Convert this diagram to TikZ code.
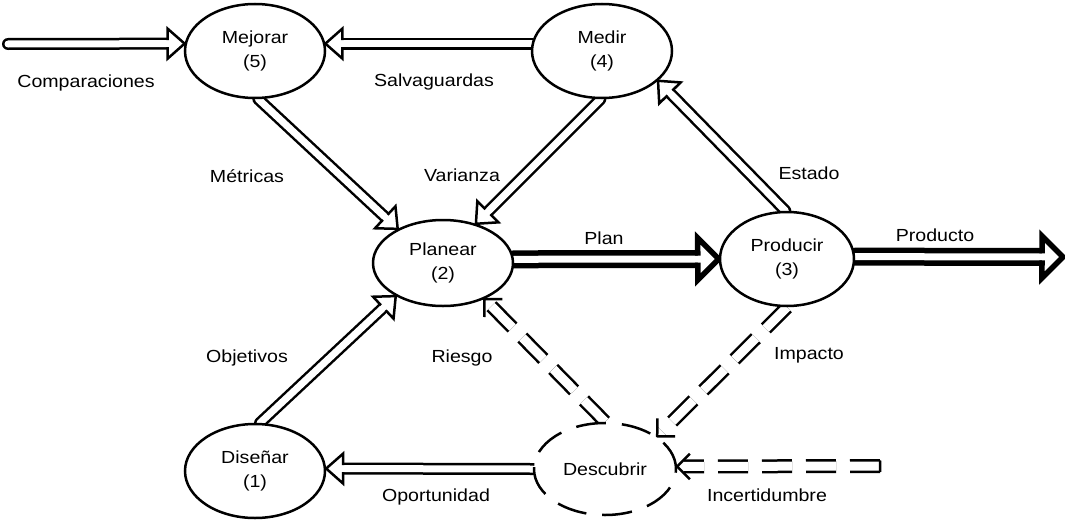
\documentclass[tikz,border=0pt]{standalone}
\usepackage{fontspec}
\setmainfont{Liberation Sans}[FakeStretch=1.12]
\usetikzlibrary{calc,shapes.geometric}
\pgfdeclarelayer{background}
\pgfsetlayers{background,main}
% solid double arrow with open block head
% #1 options, #2 from, #3 to, #4 line width, #5 double distance, #6 head length, #7 head half width
\newcommand\dar[7][]{%
  \pgfmathsetmacro\dhs{(#4+#5)/2}%
  \draw[line width=#4pt, double, double distance=#5pt, line cap=round, #1] (#2) -- ($(#3)!#6pt!(#2)$);
  \draw[line width=#4pt, fill=white, line join=miter, line cap=rect]
    ($(#3)!#6pt!(#2)!\dhs pt!90:(#3)$) -- ($(#3)!#6pt!(#2)!#7pt!90:(#3)$) -- (#3)
    -- ($(#3)!#6pt!(#2)!#7pt!-90:(#3)$) -- ($(#3)!#6pt!(#2)!\dhs pt!-90:(#3)$);
}
% dashed double arrow with chevron head
\newcommand\dch[5][]{%
  \draw[line width=#4pt, double, double distance=#5pt, line cap=butt, dashpat, #1] (#2) -- ($(#3)!7pt!(#2)$);
  \draw[line width=#4pt, line join=miter] ($(#3)!18pt!45:(#2)$) -- (#3) -- ($(#3)!18pt!-45:(#2)$);
}
\begin{document}
\begin{tikzpicture}[x=1pt,y=-1pt,
  every node/.style={font=\fontsize{17.5}{24}\selectfont},
  proc/.style={ellipse, draw, line width=2.5pt, fill=white, inner sep=0pt, align=center,
    minimum width=140pt, minimum height=94pt},
  lbl/.style={inner sep=1pt},
  dashpat/.style={dash pattern=on 30pt off 14pt}]
\useasboundingbox (0,0) rectangle (1065,522);
\node[proc] (mej) at (255,51) {Mejorar\\(5)};
\node[proc] (med) at (602,51) {Medir\\(4)};
\node[proc, minimum height=86pt] (pla) at (443,263) {Planear\\(2)};
\node[proc, minimum width=134pt] (pro) at (787,259) {Producir\\(3)};
\node[proc] (dis) at (255,471) {Diseñar\\(1)};
\node[proc, minimum width=142pt, minimum height=92pt, dash pattern=on 30pt off 16pt] (des) at (605,469) {Descubrir};
\coordinate (cmpS) at (8,44);
\coordinate (prdE) at (1063,257);
\coordinate (incS) at (880,466);
\begin{pgfonlayer}{background}
\dar{cmpS}{mej.174}{2.5}{7}{17}{15}
\dar{med.174}{mej.6}{2.5}{7}{17}{15}
\dar{mej.-86}{pla.143}{2.5}{7}{17}{15}
\dar{med.-92}{pla.50}{2.5}{7}{17}{15}
\dar{pro.92}{med.-28}{2.5}{7}{17}{15}
\dar{pla.3}{pro.180}{5.5}{7}{21}{21}
\dar{pro.2}{prdE}{5.5}{7}{21}{21}
\dar{dis.84}{pla.-145}{2.5}{7}{17}{15}
\dar{des.180}{dis.2}{2.5}{7}{17}{15}
\dch{des.90}{pla.-41}{2.5}{9}
\dch{pro.-90}{des.32}{2.5}{9}
\dch{incS}{des.2}{2.5}{9}
\draw[line width=2.5pt] ($(incS)!5.75pt!90:(des.2)$) -- ($(incS)!5.75pt!-90:(des.2)$);
\end{pgfonlayer}
\node[lbl] (lcmp) at (86,83) {Comparaciones};
\node[lbl] (lsal) at (434,82) {Salvaguardas};
\node[lbl] (lmet) at (247,176) {Métricas};
\node[lbl] (lvar) at (462,175) {Varianza};
\node[lbl] (lest) at (809,173) {Estado};
\node[lbl] (lpla) at (604,238) {Plan};
\node[lbl] (lprd) at (935,235) {Producto};
\node[lbl] (lobj) at (247,358) {Objetivos};
\node[lbl] (lrie) at (462,358) {Riesgo};
\node[lbl] (limp) at (809,355) {Impacto};
\node[lbl] (lopo) at (436,497) {Oportunidad};
\node[lbl] (linc) at (767,495) {Incertidumbre};
\end{tikzpicture}
\end{document}
